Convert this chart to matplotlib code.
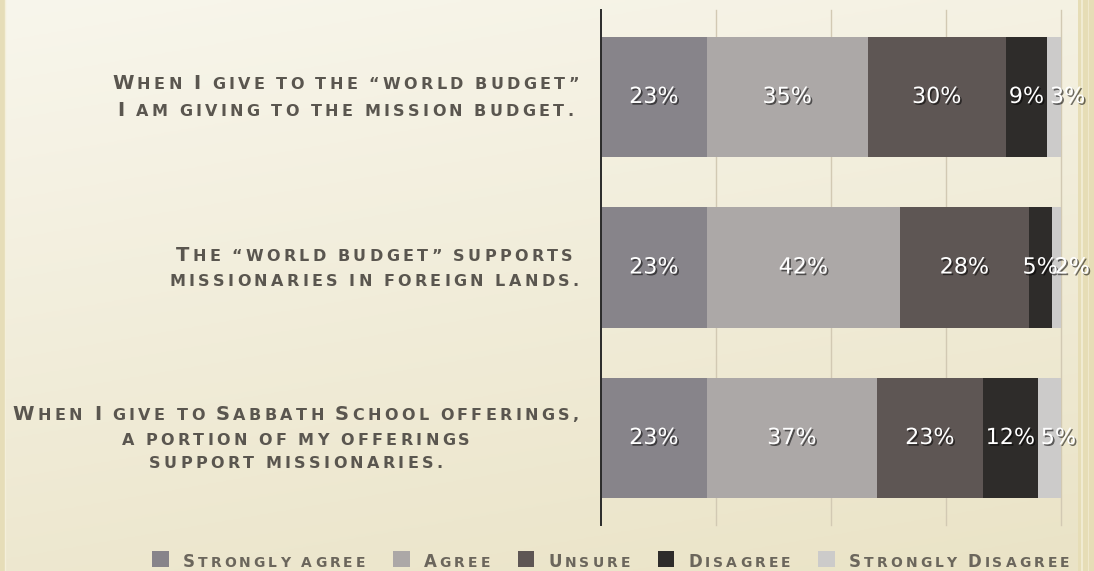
import numpy as np
import matplotlib
matplotlib.use("Agg")
import matplotlib.pyplot as plt
import matplotlib.patheffects as pe
from matplotlib.offsetbox import TextArea, HPacker, VPacker, DrawingArea, AnnotationBbox
from matplotlib.patches import Rectangle

# survey statements (top to bottom) and answers
statements = [
    "When I give to the “world budget”\nI am giving to the mission budget.",
    "The “world budget” supports\nmissionaries in foreign lands.",
    "When I give to Sabbath School offerings,\na portion of my offerings\nsupport missionaries.",
]
responses = ["Strongly agree", "Agree", "Unsure", "Disagree", "Strongly Disagree"]
strongly_agree = [23, 23, 23]
agree = [35, 42, 37]
unsure = [30, 28, 23]
disagree = [9, 5, 12]
strongly_disagree = [3, 2, 5]
series = [strongly_agree, agree, unsure, disagree, strongly_disagree]
colors = ["#87848a", "#aca8a7", "#5e5654", "#2e2c2a", "#cccbca"]

text_color = "#5a564f"


def small_caps(line, big, small, color, track=2.0, space=3.0, weight="normal"):
    # fake small caps with letter spacing: one box per glyph
    boxes = []
    for ch in line:
        if ch == " ":
            boxes.append(DrawingArea(space, 0))
            continue
        size = big if (ch.isupper() or ch.isdigit()) else small
        boxes.append(TextArea(ch.upper(), textprops=dict(
            size=size, color=color, family="DejaVu Sans", weight=weight)))
    return HPacker(children=boxes, align="baseline", pad=0, sep=track)


fig = plt.figure(figsize=(10.94, 5.71), dpi=100)

# cream paper background
bg = fig.add_axes([0, 0, 1, 1])
h, w = 200, 400
yy = np.linspace(0, 1, h)[:, None]
xx = np.linspace(0, 1, w)[None, :]
top = np.array([248, 246, 236]) / 255
bot = np.array([234, 227, 198]) / 255
t = 0.75 * yy + 0.25 * xx
img = top[None, None, :] * (1 - t[..., None]) + bot[None, None, :] * t[..., None]
img = np.clip(img, 0, 1)
bg.imshow(img, aspect="auto", extent=[0, 1, 0, 1], origin="upper")
bg.axvspan(1078 / 1094, 1, color="#e6ddb6", lw=0)
bg.axvline(1082 / 1094, color="#f3eed8", lw=1.2)
bg.axvline(1088 / 1094, color="#efe8cc", lw=0.8)
bg.axvspan(0, 6 / 1094, color="#e6ddb8", lw=0)
bg.axvline(5 / 1094, color="#f4efda", lw=1)
bg.set_xlim(0, 1)
bg.set_ylim(0, 1)
bg.axis("off")

ax = fig.add_axes([601 / 1094, 46 / 571, 460 / 1094, 515 / 571])
ax.set_zorder(2)
ax.patch.set_alpha(0)

shadow = [pe.SimplePatchShadow(offset=(1.2, -1.2), shadow_rgbFace="black", alpha=0.55), pe.Normal()]

y = np.arange(len(statements))
left = np.zeros(len(statements))
for k, (vals, col) in enumerate(zip(series, colors)):
    vals = np.array(vals)
    ax.barh(y, vals, left=left, height=0.705, color=col, edgecolor="none", zorder=3)
    last = k == len(series) - 1
    for yi, l, v in zip(y, left, vals):
        # the thin last segment gets its label starting at the segment edge
        xpos = l + 0.6 if last else l + v / 2
        ax.text(xpos, yi, f"{v}%", ha="left" if last else "center", va="center", color="white",
                fontsize=16, family="DejaVu Sans", zorder=5, clip_on=False, path_effects=shadow)
    left = left + vals

ax.set_xlim(0, 100)
ax.set_ylim(2.51, -0.51)
ax.set_xticks([25, 50, 75, 100])
ax.set_xticklabels([])
ax.set_yticks([])
ax.tick_params(length=0)
ax.grid(axis="x", color="#d2c9b3", lw=1, zorder=1)
for gl in ax.get_xgridlines():
    gl.set_clip_on(False)
for s in ["top", "right", "bottom"]:
    ax.spines[s].set_visible(False)
ax.spines["left"].set_color("#2a2a2a")
ax.spines["left"].set_linewidth(1.4)
ax.spines["left"].set_zorder(4)

# category labels, centred lines, right aligned block
for yi, stmt in zip(y, statements):
    lines = [small_caps(ln, 14, 11.5, text_color, track=2.4, space=3.5, weight="semibold")
             for ln in stmt.split("\n")]
    box = VPacker(children=lines, align="center", pad=0, sep=6)
    ab = AnnotationBbox(box, (0, yi), xycoords=("axes fraction", "data"),
                        xybox=(-16, 0), boxcoords="offset points",
                        box_alignment=(1, 0.5), frameon=False, pad=0)
    ax.add_artist(ab)

# legend along the bottom
entries = []
for name, col in zip(responses, colors):
    da = DrawingArea(12, 11.5, 0, 0)
    da.add_artist(Rectangle((0, 0), 12, 11.5, fc=col, ec="none"))
    entries.append(HPacker(children=[da, small_caps(name, 12, 10, "#6b665c", track=2.2, space=3.5,
                                                    weight="semibold")],
                           align="baseline", pad=0, sep=10))
legend_box = HPacker(children=entries, align="baseline", pad=0, sep=20)
fig.add_artist(AnnotationBbox(legend_box, (152 / 1094, 10 / 571), xycoords="figure fraction",
                              box_alignment=(0, 0.5), frameon=False, pad=0))

fig.savefig("out.png", dpi=100)
